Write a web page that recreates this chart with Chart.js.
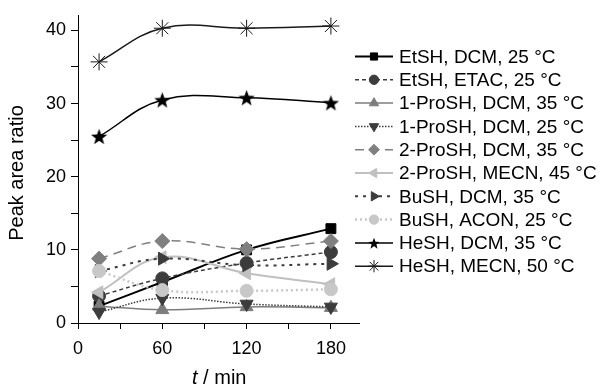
<!DOCTYPE html>
<html>
<head>
<meta charset="utf-8">
<script src="https://cdn.jsdelivr.net/npm/chart.js@4.4.0/dist/chart.umd.min.js"></script>
<style>
  html, body { margin: 0; padding: 0; background: #fff; }
  #wrap { width: 601px; height: 387px; }
</style>
</head>
<body>
<div id="wrap"><canvas id="peakChart" width="601" height="387"></canvas></div>
<script>
// sampling times (min)
const times = [15, 60, 120, 180];

const seriesNames = [
  "EtSH, DCM, 25 °C",
  "EtSH, ETAC, 25 °C",
  "1-ProSH, DCM, 35 °C",
  "1-ProSH, DCM, 25 °C",
  "2-ProSH, DCM, 35 °C",
  "2-ProSH, MECN, 45 °C",
  "BuSH, DCM, 35 °C",
  "BuSH, ACON, 25 °C",
  "HeSH, DCM, 35 °C",
  "HeSH, MECN, 50 °C"
];

// peak area ratio per series
const etshDcm25 = [2.3, 5.6, 10.0, 12.9];
const etshEtac25 = [3.7, 6.1, 8.2, 9.7];
const proDcm35 = [2.3, 1.8, 2.2, 2.1];
const proDcm25 = [1.5, 3.4, 2.6, 2.2];
const iproDcm35 = [8.8, 11.2, 10.1, 11.2];
const iproMecn45 = [4.2, 9.0, 6.8, 5.3];
const bushDcm35 = [7.1, 8.8, 7.9, 8.1];
const bushAcon25 = [7.1, 4.5, 4.4, 4.6];
const heshDcm35 = [25.5, 30.5, 30.8, 30.1];
const heshMecn50 = [35.7, 40.3, 40.3, 40.6];

const xTickLabels = [0, 60, 120, 180];
const yTickLabels = [0, 10, 20, 30, 40];

const seriesValues = [etshDcm25, etshEtac25, proDcm35, proDcm25, iproDcm35,
  iproMecn45, bushDcm35, bushAcon25, heshDcm35, heshMecn50];

// filled star marker (Chart.js 'star' is an asterisk)
function makeStar(size, color) {
  const c = document.createElement("canvas");
  c.width = size; c.height = size;
  const g = c.getContext("2d");
  const cx = size / 2, cy = size / 2 + 0.8, ro = size / 2, ri = ro * 0.42;
  g.fillStyle = color;
  g.beginPath();
  for (let k = 0; k < 10; k++) {
    const r = k % 2 === 0 ? ro : ri;
    const a = -Math.PI / 2 + k * Math.PI / 5;
    g.lineTo(cx + r * Math.cos(a), cy + r * Math.sin(a));
  }
  g.closePath();
  g.fill();
  return c;
}
const starBig = makeStar(17, "#000");
const starSmall = makeStar(12, "#000");

const seriesStyles = [
  { color: "#000000", dash: [], width: 2, point: "rect", rot: 0, r: 7 },
  { color: "#3c3c3c", dash: [4, 3], width: 1.5, point: "circle", rot: 0, r: 6.5 },
  { color: "#7d7d7d", dash: [], width: 1.5, point: "triangle", rot: 0, r: 7.5 },
  { color: "#3c3c3c", dash: [1.5, 1.5], width: 1.5, point: "triangle", rot: 180, r: 7.5 },
  { color: "#808080", dash: [9, 6], width: 1.5, point: "rectRot", rot: 0, r: 7.5 },
  { color: "#c0c0c0", dash: [], width: 2, point: "triangle", rot: -90, r: 7.5 },
  { color: "#3c3c3c", dash: [3, 5], width: 2, point: "triangle", rot: 90, r: 7.5 },
  { color: "#c8c8c8", dash: [2, 3], width: 2.5, point: "circle", rot: 0, r: 6.5 },
  { color: "#000000", dash: [], width: 1.5, point: starBig, legendPoint: starSmall, rot: 0, r: 8 },
  { color: "#1a1a1a", dash: [], width: 1.5, point: "star", rot: 0, r: 8.5 }
];

const datasets = seriesNames.map((name, i) => {
  const st = seriesStyles[i];
  return {
    label: name,
    data: times.map((t, k) => ({ x: t, y: seriesValues[i][k] })),
    borderColor: st.color,
    borderWidth: st.width,
    borderDash: st.dash,
    backgroundColor: st.color,
    pointStyle: st.point,
    pointRotation: st.rot,
    pointRadius: st.r,
    pointBackgroundColor: st.color,
    pointBorderColor: st.color,
    pointBorderWidth: 1,
    tension: 0.4,
    fill: false,
    order: seriesNames.length - i
  };
});

const sideDecor = {
  id: "sideDecor",
  afterDraw(chart) {
    const ctx = chart.ctx;
    const area = chart.chartArea;
    ctx.save();

    // legend on the right
    const x0 = area.right - 4;
    chart.data.datasets.forEach((ds, i) => {
      const st = seriesStyles[i];
      const y = 56.5 + i * 23.3;
      ctx.strokeStyle = st.color;
      ctx.lineWidth = st.width;
      ctx.setLineDash(st.dash);
      ctx.beginPath();
      ctx.moveTo(x0, y);
      ctx.lineTo(x0 + 38, y);
      ctx.stroke();
      ctx.setLineDash([]);
      ctx.fillStyle = st.color;
      ctx.strokeStyle = st.color;
      ctx.lineWidth = 1;
      Chart.helpers.drawPoint(ctx, {
        pointStyle: st.legendPoint || st.point,
        rotation: st.rot,
        radius: st.r * 0.72,
        borderWidth: 1
      }, x0 + 19, y);
      ctx.fillStyle = "#000";
      ctx.font = "19px 'Liberation Sans', Arial, sans-serif";
      ctx.textBaseline = "middle";
      ctx.textAlign = "left";
      ctx.fillText(ds.label, x0 + 44, y + 1);
    });

    // y title
    ctx.save();
    ctx.translate(17, 173);
    ctx.rotate(-Math.PI / 2);
    ctx.font = "20px 'Liberation Sans', Arial, sans-serif";
    ctx.textAlign = "center";
    ctx.textBaseline = "middle";
    ctx.fillText("Peak area ratio", 0, 0);
    ctx.restore();

    // x title with italic t
    ctx.textBaseline = "alphabetic";
    ctx.textAlign = "left";
    ctx.font = "italic 20px 'Liberation Sans', Arial, sans-serif";
    ctx.fillText("t", 192, 384);
    const tw = ctx.measureText("t").width;
    ctx.font = "20px 'Liberation Sans', Arial, sans-serif";
    ctx.fillText(" / min", 192 + tw, 384);

    ctx.restore();
  }
};

new Chart(document.getElementById("peakChart"), {
  type: "line",
  data: { datasets },
  options: {
    responsive: false,
    animation: false,
    devicePixelRatio: 1,
    layout: { padding: { top: 12, right: 242, left: 0, bottom: 0 } },
    plugins: {
      legend: { display: false },
      tooltip: { enabled: false }
    },
    scales: {
      x: {
        type: "linear",
        min: 0,
        max: 200,
        afterFit: scale => { scale.height = 64; },
        ticks: {
          stepSize: 30,
          includeBounds: false,
          autoSkip: false,
          padding: 9,
          color: "#000",
          font: { family: "'Liberation Sans', Arial, sans-serif", size: 18 },
          maxRotation: 0,
          callback: v => xTickLabels.includes(v) ? String(v) : ""
        },
        grid: { drawOnChartArea: false, drawTicks: true, tickLength: 6, color: "#000", lineWidth: 1 },
        border: { display: true, color: "#000", width: 1 }
      },
      y: {
        min: 0,
        max: 42,
        afterFit: scale => { scale.width = 78; },
        ticks: {
          stepSize: 5,
          includeBounds: false,
          autoSkip: false,
          padding: 5,
          color: "#000",
          font: { family: "'Liberation Sans', Arial, sans-serif", size: 18 },
          callback: v => yTickLabels.includes(v) ? String(v) : ""
        },
        grid: { drawOnChartArea: false, drawTicks: true, tickLength: 7, color: "#000", lineWidth: 1 },
        border: { display: true, color: "#000", width: 1 }
      }
    }
  },
  plugins: [sideDecor]
});
</script>
</body>
</html>
